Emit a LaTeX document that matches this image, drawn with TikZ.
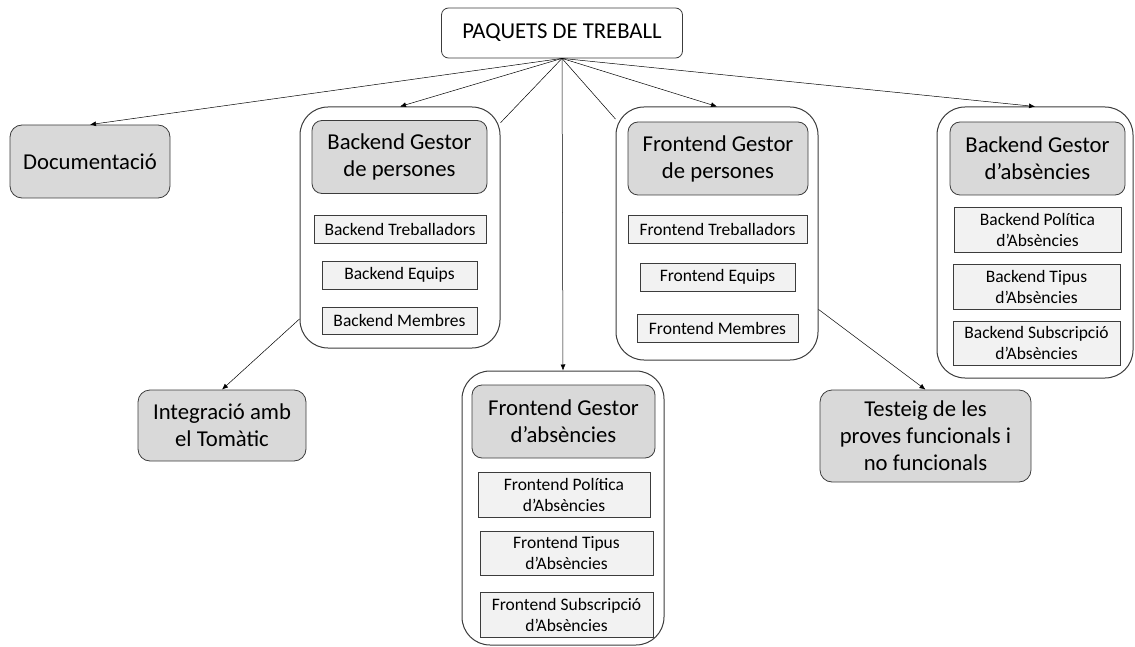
\documentclass[tikz,border=0pt]{standalone}
\usepackage{fontspec}
\setmainfont{Carlito}
\usetikzlibrary{arrows.meta}
\definecolor{vora}{RGB}{60,60,60}
\definecolor{capfons}{RGB}{217,217,217}
\definecolor{subfons}{RGB}{242,242,242}

\begin{document}
\begin{tikzpicture}[x=1pt,y=-1pt,
    gran/.style={draw=vora, line width=0.8pt, rounded corners=10pt, fill=capfons, align=center, inner sep=0pt, font=\fontsize{22.7}{27}\selectfont},
    grup/.style={draw=vora, line width=1pt, rounded corners=28pt, inner sep=0pt},
    sub/.style={draw=vora, line width=0.8pt, fill=subfons, align=center, inner sep=0pt, font=\fontsize{17.5}{21}\selectfont},
    fletxa/.style={-{Latex[length=6pt,width=5pt]}, line width=0.5pt},
    linia/.style={line width=0.5pt}]
    \useasboundingbox (0,0) rectangle (1135,647);

    % arrel
    \node[gran, fill=white, rounded corners=7pt, minimum width=241pt, minimum height=50pt] (arrel) at (562,33) {PAQUETS DE TREBALL};

    % caixes soles
    \node[gran, rounded corners=12pt, minimum width=160pt, minimum height=73pt] (doc) at (90,161.5) {Documentació};
    \node[gran, rounded corners=12pt, minimum width=168pt, minimum height=71pt] (integ) at (222,425.5) {Integració amb\\el Tomàtic};
    \node[gran, rounded corners=12pt, minimum width=211pt, minimum height=92pt] (test) at (925.5,436) {Testeig de les\\proves funcionals i\\no funcionals};

    % Backend Gestor de persones
    \node[grup, minimum width=200pt, minimum height=241pt] (bgp) at (400,227.5) {};
    \node[gran, minimum width=175pt, minimum height=73pt] (bgpcap) at (399.5,157) {Backend Gestor\\de persones};
    \node[sub, minimum width=172pt, minimum height=28pt] (bgptreb) at (400,229) {Backend Treballadors};
    \node[sub, minimum width=155pt, minimum height=28pt] (bgpeq) at (399.5,275) {Backend Equips};
    \node[sub, minimum width=155pt, minimum height=27pt] (bgpmem) at (399.5,320.5) {Backend Membres};

    % Frontend Gestor de persones
    \node[grup, minimum width=202pt, minimum height=253pt] (fgp) at (717,233.5) {};
    \node[gran, minimum width=180pt, minimum height=73pt] (fgpcap) at (718,158.5) {Frontend Gestor\\de persones};
    \node[sub, minimum width=179pt, minimum height=28pt] (fgptreb) at (717.5,229) {Frontend Treballadors};
    \node[sub, minimum width=155pt, minimum height=28pt] (fgpeq) at (717.5,277) {Frontend Equips};
    \node[sub, minimum width=161pt, minimum height=28pt] (fgpmem) at (717.5,328) {Frontend Membres};

    % Backend Gestor d'absencies
    \node[grup, minimum width=196pt, minimum height=271pt] (bga) at (1035,242.5) {};
    \node[gran, minimum width=175pt, minimum height=73pt] (bgacap) at (1037.5,158.5) {Backend Gestor\\d’absències};
    \node[sub, minimum width=167pt, minimum height=45pt] (bgapol) at (1037.5,230) {Backend Política\\d’Absències};
    \node[sub, minimum width=167pt, minimum height=45pt] (bgatip) at (1036.5,287) {Backend Tipus\\d’Absències};
    \node[sub, minimum width=167pt, minimum height=44pt] (bgasubs) at (1036.5,343) {Backend Subscripció\\d’Absències};

    % Frontend Gestor d'absencies
    \node[grup, minimum width=202pt, minimum height=274pt] (fga) at (563,508) {};
    \node[gran, minimum width=183pt, minimum height=73pt] (fgacap) at (563.5,421.5) {Frontend Gestor\\d’absències};
    \node[sub, minimum width=172pt, minimum height=45pt] (fgapol) at (564,494.5) {Frontend Política\\d’Absències};
    \node[sub, minimum width=173pt, minimum height=44pt] (fgatip) at (566.5,553) {Frontend Tipus\\d’Absències};
    \node[sub, minimum width=173pt, minimum height=45pt] (fgasubs) at (566.5,614.5) {Frontend Subscripció\\d’Absències};

    % connexions
    \draw[fletxa] (arrel.south) -- (doc.north);
    \draw[fletxa] (arrel.south) -- (bgp.north);
    \draw[linia] (arrel.south) -- (bgp);
    \draw[fletxa] (arrel.south) -- (fga.north);
    \draw[linia] (arrel.south) -- (fgp);
    \draw[fletxa] (arrel.south) -- (fgp.north);
    \draw[fletxa] (arrel.south) -- (bga.north);
    \draw[fletxa] (bgp) -- (integ.north);
    \draw[fletxa] (fgp) -- (test.north);

\end{tikzpicture}
\end{document}
